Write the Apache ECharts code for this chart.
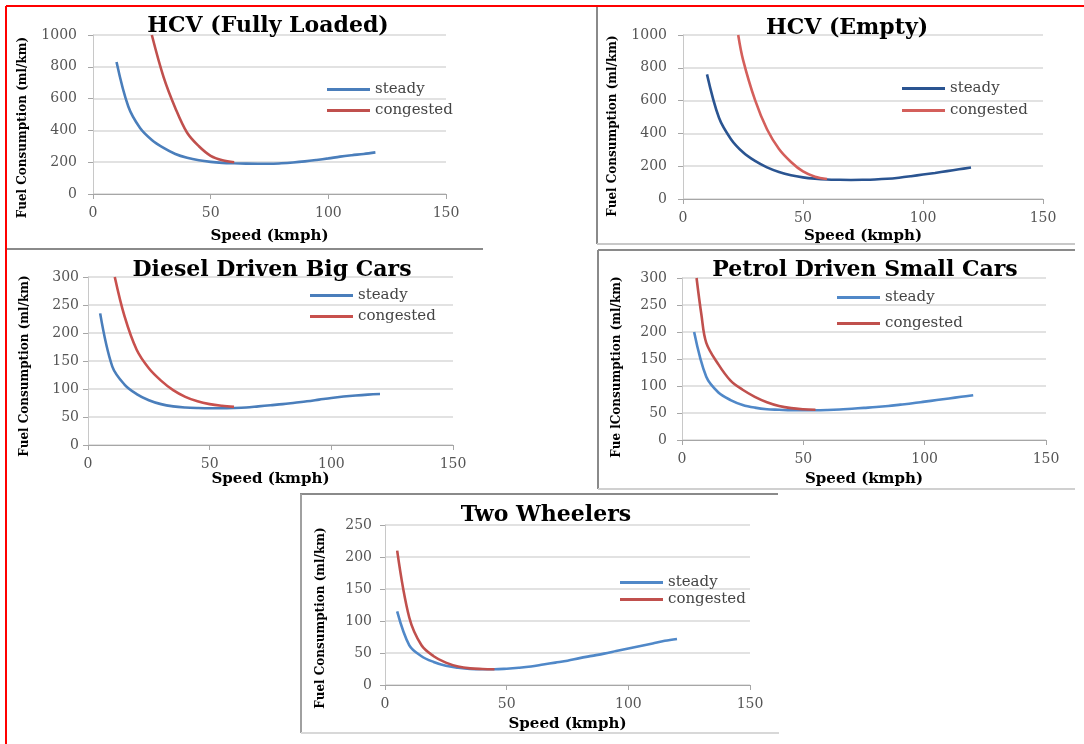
<!DOCTYPE html>
<html>
<head>
<meta charset="utf-8">
<script src="https://cdn.jsdelivr.net/npm/echarts@6/dist/echarts.min.js"></script>
<style>
  html, body { margin: 0; padding: 0; background: #fff; }
  #charts { width: 1084px; height: 744px; }
</style>
</head>
<body>
<div id="charts"></div>
<script>
// HCV fully loaded
var hcvFullSteadySpeed = [10, 15, 20, 25, 30, 35, 40, 45, 50, 55, 60, 65, 70, 75, 80, 85, 90, 95, 100, 105, 110, 115, 120]
var hcvFullSteady = [830, 550, 415, 340, 290, 252, 228, 212, 202, 196, 193, 191, 190, 190, 193, 198, 205, 214, 224, 235, 244, 252, 262]
var hcvFullCongSpeed = [25, 30, 35, 40, 45, 50, 55, 60]
var hcvFullCong = [1000, 735, 540, 385, 300, 240, 212, 200]

// HCV empty
var hcvEmptySteadySpeed = [10, 15, 20, 25, 30, 35, 40, 45, 50, 55, 60, 65, 70, 75, 80, 85, 90, 95, 100, 105, 110, 115, 120]
var hcvEmptySteady = [760, 495, 365, 285, 232, 193, 165, 145, 132, 124, 119, 117, 116, 117, 119, 123, 130, 139, 149, 159, 170, 181, 192]
var hcvEmptyCongSpeed = [23, 25, 30, 35, 40, 45, 50, 55, 60]
var hcvEmptyCong = [1000, 850, 604, 425, 305, 226, 168, 136, 122]

// diesel big cars
var dieselSteadySpeed = [5, 10, 15, 20, 25, 30, 35, 40, 45, 50, 55, 60, 65, 70, 75, 80, 85, 90, 95, 100, 105, 110, 115, 120]
var dieselSteady = [235, 140, 108, 91, 80, 73, 69, 67, 66, 65.5, 65.5, 66, 67, 69, 71, 73, 75.5, 78, 81, 84, 86.5, 88.5, 90, 91]
var dieselCongSpeed = [11, 15, 20, 25, 30, 35, 40, 45, 50, 55, 60]
var dieselCong = [300, 230, 170, 137, 115, 98, 86, 78, 73, 70, 68]

// petrol small cars
var petrolSteadySpeed = [5, 10, 15, 20, 25, 30, 35, 40, 45, 50, 55, 60, 65, 70, 75, 80, 85, 90, 95, 100, 105, 110, 115, 120]
var petrolSteady = [200, 117, 88, 74, 65, 60, 57, 56, 55, 55, 55, 55.5, 56.5, 58, 59.5, 61, 63, 65.5, 68, 71, 74, 77, 80, 83]
var petrolCongSpeed = [6, 8, 10, 15, 20, 25, 30, 35, 40, 45, 50, 55]
var petrolCong = [300, 232, 180, 140, 110, 93, 80, 70, 63, 59, 57, 56]

// two wheelers
var twoSteadySpeed = [5, 10, 15, 20, 25, 30, 35, 40, 45, 50, 55, 60, 65, 70, 75, 80, 85, 90, 95, 100, 105, 110, 115, 120]
var twoSteady = [115, 62, 45, 36, 30, 27, 25, 24.5, 24.5, 25.5, 27, 29, 32, 35, 38, 42, 45.5, 49, 53, 57, 61, 65, 69, 72]
var twoCongSpeed = [5, 10, 15, 20, 25, 30, 35, 40, 45]
var twoCong = [210, 105, 62, 45, 35, 29, 26, 25, 24.5]

var titles = ['HCV (Fully Loaded)', 'HCV (Empty)', 'Diesel Driven Big Cars', 'Petrol Driven Small Cars', 'Two Wheelers']
var yNames = ['Fuel Consumption (ml/km)', 'Fuel Consumption (ml/km)', 'Fuel Consumption (ml/km)', 'Fue lConsumption (ml/km)', 'Fuel Consumption (ml/km)']
var xName = 'Speed (kmph)'
var yMax = [1000, 1000, 300, 300, 250]
var yStep = [200, 200, 50, 50, 50]

var panels = [
  {steadyX: hcvFullSteadySpeed, steady: hcvFullSteady, congX: hcvFullCongSpeed, cong: hcvFullCong},
  {steadyX: hcvEmptySteadySpeed, steady: hcvEmptySteady, congX: hcvEmptyCongSpeed, cong: hcvEmptyCong},
  {steadyX: dieselSteadySpeed, steady: dieselSteady, congX: dieselCongSpeed, cong: dieselCong},
  {steadyX: petrolSteadySpeed, steady: petrolSteady, congX: petrolCongSpeed, cong: petrolCong},
  {steadyX: twoSteadySpeed, steady: twoSteady, congX: twoCongSpeed, cong: twoCong}
]

// layout of the five boxes
var grids = [
  {left: 93, top: 35, width: 353, height: 159},
  {left: 683, top: 35, width: 360, height: 164},
  {left: 88, top: 277, width: 365, height: 168},
  {left: 682, top: 278, width: 364, height: 162},
  {left: 385, top: 525, width: 365, height: 160}
]
var titlePos = [[263, 10], [842, 12], [267, 254], [860, 254], [541, 499]]
var legendPos = [
  {left: 327, top: 82, itemGap: 6},
  {left: 902, top: 81, itemGap: 7},
  {left: 310, top: 288, itemGap: 6},
  {left: 837, top: 290, itemGap: 11},
  {left: 620, top: 575, itemGap: 2}
]
var yLabelMargin = [16, 16, 9, 15, 13]
var yNameGap = [64, 64, 57, 59, 58]
var yNameShift = [13, 9, 5, 8, 13]
var xNameGap = [35, 30, 27, 32, 32]
var steadyColors = ['#4a7ebb', '#2a5491', '#4a7ebb', '#5088c8', '#5088c8']
var congColors = ['#c0504d', '#d45f5b', '#c8504d', '#c0504d', '#c0504d']
var lineIcon = 'path://M0,0 L43,0 L43,3 L0,3 Z'

var serif = 'DejaVu Serif'
var option = {
  backgroundColor: '#fff',
  animation: false,
  title: [], grid: [], xAxis: [], yAxis: [], legend: [], series: [],
  graphic: []
}

panels.forEach(function (p, i) {
  option.title.push({
    text: titles[i], left: titlePos[i][0], top: titlePos[i][1], textAlign: 'center',
    textStyle: {fontFamily: serif, fontWeight: 'bold', fontSize: 22, color: '#000'}
  })
  option.grid.push(Object.assign({containLabel: false}, grids[i]))
  option.xAxis.push({
    type: 'value', gridIndex: i, min: 0, max: 150, interval: 50,
    name: xName, nameLocation: 'middle', nameGap: xNameGap[i],
    nameTextStyle: {fontFamily: serif, fontWeight: 'bold', fontSize: 15, color: '#000'},
    axisLine: {lineStyle: {color: '#a6a6a6'}},
    axisTick: {show: true, length: 5, lineStyle: {color: '#a6a6a6'}},
    axisLabel: {fontFamily: serif, fontSize: 14, color: '#555', margin: 12},
    splitLine: {show: false}
  })
  option.yAxis.push({
    type: 'value', gridIndex: i, min: 0, max: yMax[i], interval: yStep[i],
    name: yNames[i], nameLocation: 'middle', nameRotate: 90, nameGap: yNameGap[i],
    nameTextStyle: {fontFamily: serif, fontWeight: 'bold', fontSize: 12, color: '#000',
      padding: [0, yNameShift[i] * 2, 0, 0]},
    axisLine: {show: true, lineStyle: {color: '#c8c8c8'}},
    axisTick: {show: true, length: 5, lineStyle: {color: '#a6a6a6'}},
    axisLabel: {fontFamily: serif, fontSize: 14, color: '#555', margin: yLabelMargin[i],
      formatter: function (v) { return String(v) }},
    splitLine: {lineStyle: {color: '#d9d9d9', width: 1.5}}
  })
  option.legend.push({
    orient: 'vertical', left: legendPos[i].left, top: legendPos[i].top, itemGap: legendPos[i].itemGap,
    padding: 0, itemWidth: 43, itemHeight: 14, icon: lineIcon,
    textStyle: {fontFamily: serif, fontSize: 15, color: '#444'},
    data: [
      {name: 'steady', itemStyle: {color: steadyColors[i]}},
      {name: 'congested', itemStyle: {color: congColors[i]}}
    ]
  })
  option.series.push({
    name: 'steady', type: 'line', xAxisIndex: i, yAxisIndex: i, symbol: 'none', smooth: 0.35,
    lineStyle: {color: steadyColors[i], width: 2.6}, itemStyle: {color: steadyColors[i]},
    data: p.steadyX.map(function (s, k) { return [s, p.steady[k]] })
  })
  option.series.push({
    name: 'congested', type: 'line', xAxisIndex: i, yAxisIndex: i, symbol: 'none', smooth: 0.35,
    lineStyle: {color: congColors[i], width: 2.6}, itemStyle: {color: congColors[i]},
    data: p.congX.map(function (s, k) { return [s, p.cong[k]] })
  })
})

// frame lines around the pasted panels
function seg(x1, y1, x2, y2, color, w) {
  return {type: 'line', silent: true, z: 100, shape: {x1: x1, y1: y1, x2: x2, y2: y2}, style: {stroke: color, lineWidth: w}}
}
option.graphic = [
  seg(6, 6, 1084, 6, '#ff0000', 2),
  seg(6, 6, 6, 744, '#ff0000', 2),
  seg(7, 249, 483, 249, '#8a8a8a', 2),
  seg(597, 7, 597, 244, '#8a8a8a', 2),
  seg(597, 244, 1075, 244, '#c8c8c8', 2),
  seg(598, 250, 1075, 250, '#8a8a8a', 2),
  seg(598, 250, 598, 489, '#8a8a8a', 2),
  seg(598, 489, 1075, 489, '#d0d0d0', 2),
  seg(300, 494, 778, 494, '#8a8a8a', 2),
  seg(301, 494, 301, 733, '#a0a0a0', 2),
  seg(301, 733, 779, 733, '#d8d8d8', 2)
]

var myCharts = echarts.init(document.getElementById('charts'))
myCharts.setOption(option)
</script>
</body>
</html>
